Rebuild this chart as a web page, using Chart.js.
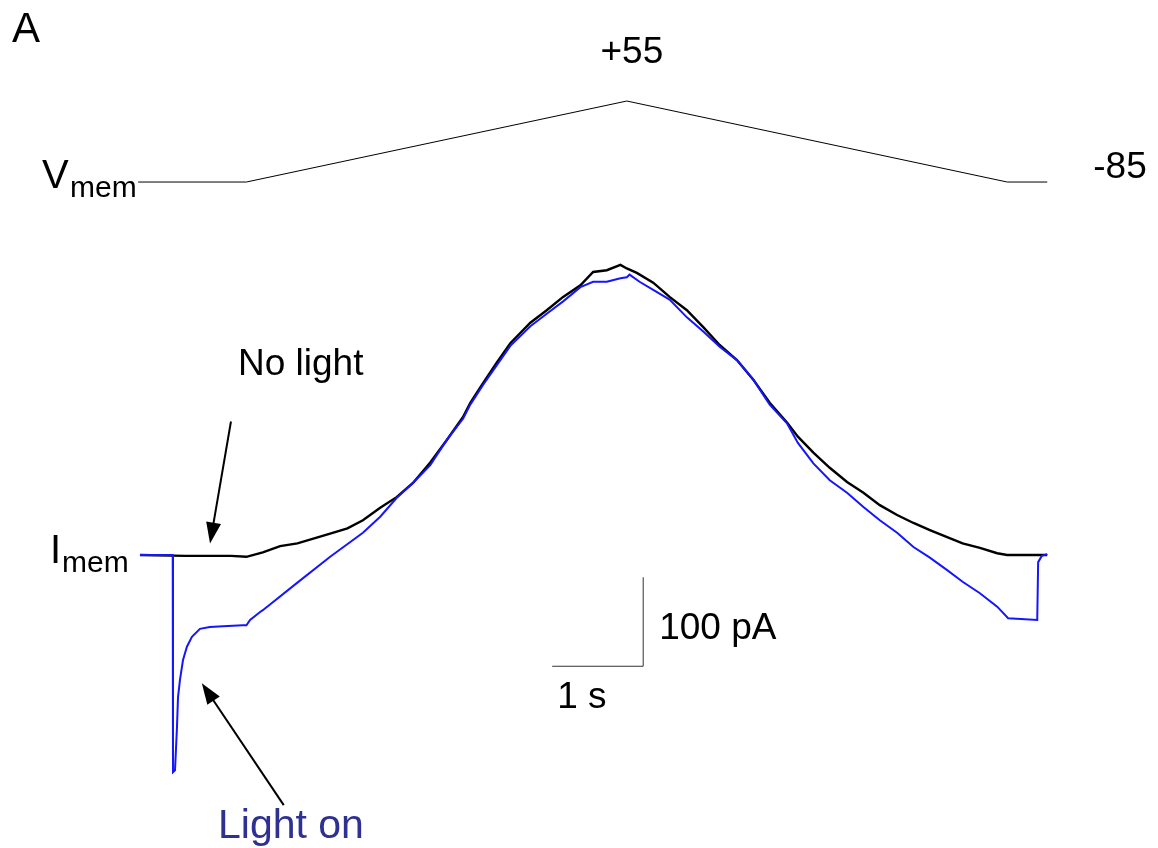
<!DOCTYPE html>
<html>
<head>
<meta charset="utf-8">
<script src="https://cdn.jsdelivr.net/npm/chart.js@4.4.1/dist/chart.umd.min.js"></script>
<style>
  html, body { margin: 0; padding: 0; background: #fff; }
  #wrap { width: 1158px; height: 848px; position: relative; }
</style>
</head>
<body>
<div id="wrap"><canvas id="myChart"></canvas></div>
<script>
// time in s, current in pA, voltage in mV
const timeVm = [-0.02, 1.17, 5.35, 9.53, 9.97];
const vmem = [-85, -85, 55, -85, -85];

const timeNoLight = [0, 0.5, 1.0, 1.17, 1.35, 1.54, 1.73, 2.09, 2.28, 2.45, 2.64, 2.82, 3.0, 3.19, 3.37, 3.55, 3.63, 3.77, 3.92, 4.07, 4.29, 4.47, 4.65, 4.84, 4.98, 5.13, 5.28, 5.35, 5.46, 5.64, 5.82, 6.01, 6.19, 6.37, 6.56, 6.74, 6.92, 7.11, 7.23, 7.40, 7.58, 7.77, 7.95, 8.13, 8.32, 8.5, 8.68, 8.87, 9.04, 9.23, 9.42, 9.53, 9.97];
const currentNoLight = [0, -1, -1, -2, 3, 10, 13, 24, 30, 39, 53, 65, 81, 104, 129, 155, 171, 193, 216, 238, 261, 275, 290, 303, 318, 320, 326, 322, 317, 306, 290, 275, 256, 236, 219, 197, 171, 149, 133, 115, 98, 82, 70, 56, 45, 36, 28, 20, 13, 8, 2, 0, 0];

const timeLightOn = [0, 0.36, 0.363, 0.385, 0.407, 0.418, 0.44, 0.473, 0.516, 0.571, 0.659, 0.769, 0.912, 1.13, 1.17, 1.21, 1.32, 1.35, 1.73, 2.09, 2.45, 2.64, 2.82, 3.0, 3.19, 3.37, 3.55, 3.63, 3.77, 3.92, 4.07, 4.29, 4.47, 4.65, 4.84, 4.98, 5.13, 5.28, 5.35, 5.38, 5.49, 5.64, 5.82, 6.01, 6.19, 6.37, 6.56, 6.74, 6.92, 7.11, 7.23, 7.40, 7.58, 7.77, 7.95, 8.13, 8.32, 8.5, 8.68, 8.87, 9.04, 9.23, 9.42, 9.54, 9.86, 9.87, 9.91, 9.97];
const currentLightOn = [0, 0, -244, -242, -193, -160, -140, -118, -103, -92, -83, -81, -80, -79, -79, -73, -64, -62, -31, -2, 25, 43, 64, 81, 101, 129, 153, 169, 191, 213, 235, 257, 271, 285, 301, 307, 307, 311, 312, 315, 307, 298, 287, 267, 251, 234, 219, 197, 169, 148, 126, 103, 84, 70, 54, 39, 25, 9, -3, -17, -30, -43, -58, -71, -73, -8, -1, 1];

// scale bar: 1 s and 100 pA
const scaleBarT = [4.53, 5.53, 5.53];
const scaleBarI = [-125, -125, -25];

function pts(xs, ys) {
  var out = [];
  for (let i = 0; i < xs.length; i++) {
    out.push({ x: xs[i], y: ys[i] });
  }
  return out;
}

const FONT = "'Liberation Sans', Arial, sans-serif";

const labels = {
  id: "labels",
  afterDraw(chart) {
    const c = chart.ctx;
    const x = chart.scales.x;
    const yI = chart.scales.y;
    const yV = chart.scales.yV;
    c.save();
    c.fillStyle = "#000";
    c.textBaseline = "alphabetic";

    c.font = "42px " + FONT;
    c.fillText("A", 12, 42);

    // voltage labels
    c.font = "37px " + FONT;
    c.textAlign = "center";
    c.fillText("+55", x.getPixelForValue(5.35) + 5, yV.getPixelForValue(55) - 38);
    c.textAlign = "left";
    c.fillText("-85", x.getPixelForValue(9.97) + 46, yV.getPixelForValue(-85) - 4);

    c.font = "40px " + FONT;
    c.fillText("V", 42, 188);
    c.font = "30px " + FONT;
    c.fillText("mem", 70, 197);

    c.font = "40px " + FONT;
    c.fillText("I", 50, 563);
    c.font = "30px " + FONT;
    c.fillText("mem", 62, 572);

    c.font = "37px " + FONT;
    c.fillText("No light", 238, 375);
    c.fillText("100 pA", x.getPixelForValue(5.53) + 16, yI.getPixelForValue(-25) + 62);
    c.fillText("1 s", x.getPixelForValue(4.53) + 5, yI.getPixelForValue(-125) + 42);
    c.font = "41px " + FONT;
    c.fillStyle = "#2e3192";
    c.fillText("Light on", 218, 838);

    // arrows
    function arrow(t0, i0, t1, i1) {
      const x0 = x.getPixelForValue(t0), y0 = yI.getPixelForValue(i0);
      const x1 = x.getPixelForValue(t1), y1 = yI.getPixelForValue(i1);
      const a = Math.atan2(y1 - y0, x1 - x0);
      c.strokeStyle = "#000";
      c.fillStyle = "#000";
      c.lineWidth = 2;
      c.beginPath();
      c.moveTo(x0, y0);
      c.lineTo(x1 - 10 * Math.cos(a), y1 - 10 * Math.sin(a));
      c.stroke();
      c.beginPath();
      c.moveTo(x1, y1);
      c.lineTo(x1 - 21 * Math.cos(a) + 7.5 * Math.sin(a), y1 - 21 * Math.sin(a) - 7.5 * Math.cos(a));
      c.lineTo(x1 - 21 * Math.cos(a) - 7.5 * Math.sin(a), y1 - 21 * Math.sin(a) + 7.5 * Math.cos(a));
      c.closePath();
      c.fill();
    }
    arrow(1.0, 150, 0.77, 13);
    arrow(1.58, -281, 0.68, -144);
    c.restore();
  }
};

const ctx = document.getElementById("myChart");

new Chart(ctx, {
  type: "line",
  data: {
    datasets: [
      {
        label: "Light on",
        data: pts(timeLightOn, currentLightOn),
        borderColor: "#1515ff",
        borderWidth: 2,
        yAxisID: "y",
      },
      {
        label: "No light",
        data: pts(timeNoLight, currentNoLight),
        borderColor: "#000",
        borderWidth: 2.4,
        yAxisID: "y",
      },
      {
        label: "Vmem",
        data: pts(timeVm, vmem),
        borderColor: "#000",
        borderWidth: 1,
        yAxisID: "yV",
      },
      {
        label: "scale",
        data: pts(scaleBarT, scaleBarI),
        borderColor: "#333",
        borderWidth: 1,
        yAxisID: "y",
      },
    ],
  },
  options: {
    responsive: true,
    maintainAspectRatio: false,
    animation: false,
    layout: { padding: 0 },
    elements: { point: { radius: 0 }, line: { tension: 0 } },
    plugins: { legend: { display: false }, tooltip: { enabled: false } },
    scales: {
      x: { type: "linear", min: -1.538, max: 11.187, display: false },
      y: { type: "linear", min: -329.2, max: 623.6, display: false },
      yV: { type: "linear", min: -1236, max: 229.6, display: false },
    },
  },
  plugins: [labels],
});
</script>
</body>
</html>
